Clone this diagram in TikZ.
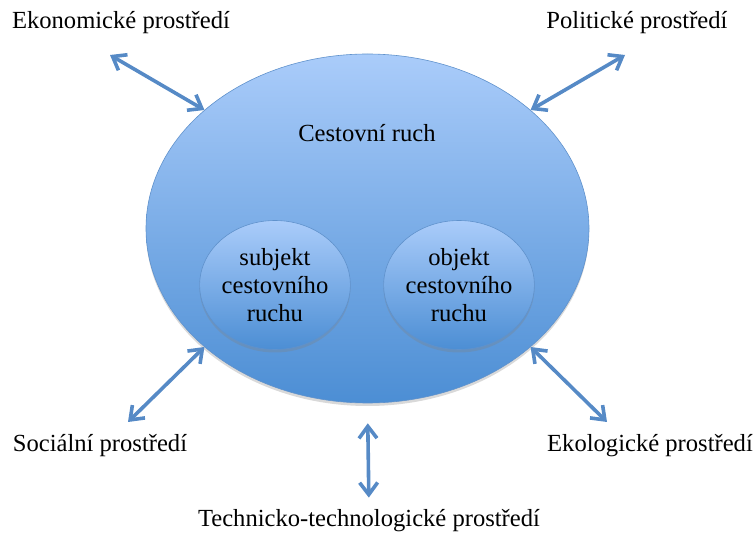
\documentclass[tikz,border=0pt]{standalone}
\usepackage{fontspec}
\setmainfont{Liberation Serif}
\usepackage{tikz}
\usetikzlibrary{arrows.meta}
\usetikzlibrary{shapes.geometric}
\usetikzlibrary{shadows}

\definecolor{linkblue}{RGB}{86,138,198}
\definecolor{lightblue}{RGB}{170,204,250}
\definecolor{darkblue}{RGB}{76,142,212}
\definecolor{edgeblue}{RGB}{96,146,204}

\tikzset{
  bubble/.style={ellipse, draw=edgeblue, line width=0.6pt, inner sep=0pt,
    top color=lightblue, bottom color=darkblue,
    drop shadow={shadow xshift=0pt, shadow yshift=-3pt, opacity=0.3}},
  env/.style={font=\fontsize{24.6}{28}\selectfont, inner sep=0pt},
  link/.style={linkblue, line width=3.6pt,
    {Straight Barb[length=12pt,width=18pt]}-{Straight Barb[length=12pt,width=18pt]}}
}

\begin{document}
\begin{tikzpicture}[x=1pt,y=-1pt]
    \useasboundingbox (0,0) rectangle (755,534);
    % main ellipse
    \node[bubble, minimum width=443pt, minimum height=349pt] (ruch) at (367.5,228.5) {};
    \node[env] (ruchLabel) at (367,133) {Cestovní ruch};
    % inner ellipses
    \node[bubble, minimum width=146pt, minimum height=129pt, align=center,
          font=\fontsize{24.6}{28}\selectfont] (subjekt) at (275,285)
          {subjekt\\cestovního\\ruchu};
    \node[bubble, minimum width=148pt, minimum height=129pt, align=center,
          font=\fontsize{24.6}{28}\selectfont] (objekt) at (459,285)
          {objekt\\cestovního\\ruchu};
    % surroundings
    \node[env] (ekonomicke) at (121,23) {Ekonomické prostředí};
    \node[env] (politicke) at (637,23) {Politické prostředí};
    \node[env] (socialni) at (100,446) {Sociální prostředí};
    \node[env] (ekologicke) at (650,446) {Ekologické prostředí};
    \node[env] (technicke) at (369,521) {Technicko-technologické prostředí};
    % free ends of the arrows
    \coordinate (ekonomickeEnd) at (110,55);
    \coordinate (politickeEnd) at (625,55);
    \coordinate (socialniEnd) at (128,422);
    \coordinate (ekologickeEnd) at (607,422);
    % arrows
    \draw[link] (ekonomickeEnd) -- (ruch.144);
    \draw[link] (politickeEnd) -- (ruch.36);
    \draw[link] (socialniEnd) -- (ruch.216);
    \draw[link] (ekologickeEnd) -- (ruch.324);
    \draw[link, shorten <=20pt, shorten >=12pt] (ruch.south) -- (technicke.north);
\end{tikzpicture}
\end{document}
